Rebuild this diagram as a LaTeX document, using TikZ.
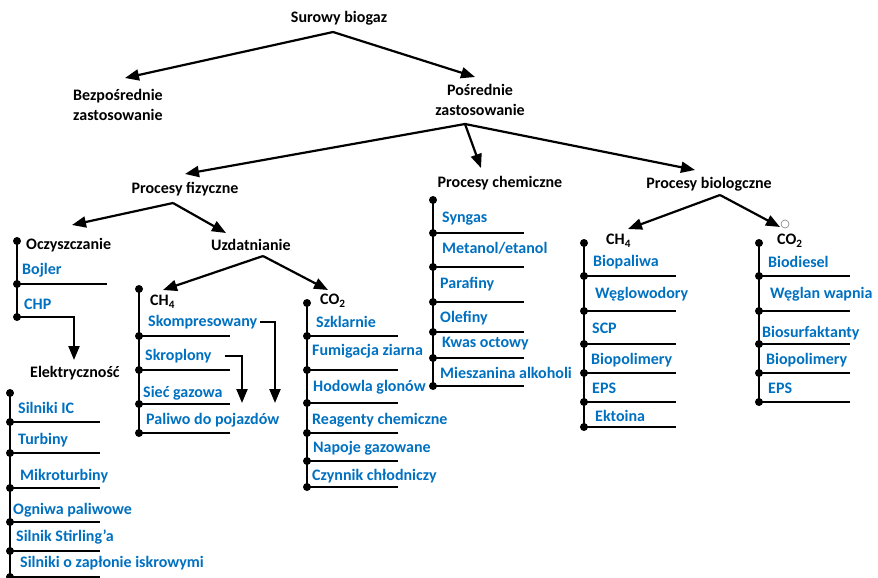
\documentclass[tikz,border=0pt]{standalone}
\usepackage{fontspec}
\setmainfont{Carlito}
\usepackage{xcolor}
\usetikzlibrary{arrows.meta}

\definecolor{itemblue}{RGB}{0,112,192}

\tikzset{
    head/.style={font=\fontsize{16}{20}\selectfont\bfseries, inner sep=0pt},
    item/.style={font=\fontsize{16}{20}\selectfont\bfseries, text=itemblue, anchor=west, inner sep=0pt},
    dot/.style={circle, fill=black, inner sep=0pt, minimum size=8pt},
    rung/.style={line width=2.2pt},
    arr/.style={line width=2.2pt, -{Triangle[length=14pt,width=11pt]}},
}

\begin{document}
\begin{tikzpicture}[x=1pt, y=-1pt]
    \useasboundingbox (0,0) rectangle (878,578);

    % headings
    \node[head] (biogaz) at (339,18) {Surowy biogaz};
    \node[head, anchor=west, align=left] (bezp) at (73,105) {Bezpośrednie\\zastosowanie};
    \node[head, align=center] (posr) at (480,100) {Pośrednie\\zastosowanie};
    \node[head] (fiz) at (185,189) {Procesy fizyczne};
    \node[head] (chem) at (500,183) {Procesy chemiczne};
    \node[head] (bio) at (709,184) {Procesy biologczne};
    \node[head, anchor=west] (oczy) at (26,245) {Oczyszczanie};
    \node[head, anchor=west] (uzd) at (211,245) {Uzdatnianie};
    \node[head, anchor=west] (elek) at (30,373) {Elektryczność};
    \node[head, anchor=west] (ch4) at (150,302) {CH\textsubscript{4}};
    \node[head, anchor=west] (co2) at (320,301) {CO\textsubscript{2}};
    \node[head, anchor=west] (bch4) at (606,241) {CH\textsubscript{4}};
    \node[head, anchor=west] (bco2) at (777,241) {CO\textsubscript{2}};

    % branching arrows
    \coordinate (a0) at (333,32);
    \coordinate (a1) at (465,124);
    \coordinate (a2) at (173,203);
    \coordinate (a3) at (263,256);
    \coordinate (a4) at (720,195);
    \coordinate (t-bezp) at (125,78);
    \coordinate (t-posr) at (475,77);
    \coordinate (t-fiz) at (185,174);
    \coordinate (t-chem) at (481,168);
    \coordinate (t-bio) at (695,170);
    \coordinate (t-oczy) at (72,225);
    \coordinate (t-uzd) at (226,233);
    \coordinate (t-ch4) at (163,290);
    \coordinate (t-co2) at (328,290);
    \coordinate (t-bch4) at (628,229);
    \coordinate (t-bco2) at (780,227);

    \draw[arr] (a0) -- (t-bezp);
    \draw[arr] (a0) -- (t-posr);
    \draw[arr] (a1) -- (t-fiz);
    \draw[arr] (a1) -- (t-chem);
    \draw[arr] (a1) -- (t-bio);
    \draw[arr] (a2) -- (t-oczy);
    \draw[arr] (a2) -- (t-uzd);
    \draw[arr] (a3) -- (t-ch4);
    \draw[arr] (a3) -- (t-co2);
    \draw[arr] (a4) -- (t-bch4);
    \draw[arr] (a4) -- (t-bco2);
    \node[circle, draw=gray, fill=white, line width=0.6pt, minimum size=8pt, inner sep=0pt] (ring) at (785,224) {};

    % Oczyszczanie
    \node[dot] (o0) at (17,241) {};
    \node[dot] (o1) at (17,284) {};
    \node[dot] (o2) at (17,317) {};
    \coordinate (o1r) at (107,284);
    \coordinate (t-elek) at (74,360);
    \draw[rung] (o0.center) -- (o2.center);
    \draw[rung] (o1.center) -- (o1r);
    \draw[arr] (o2.center) -| (t-elek);
    \node[item] (bojler) at (22,270) {Bojler};
    \node[item] (chp) at (24,304) {CHP};

    % Elektryczność
    \node[dot] (e0) at (10,393) {};
    \foreach \i/\y in {1/422,2/453,3/488,4/522,5/551,6/577}{
        \node[dot] (e\i) at (10,\y) {};
        \coordinate (e\i r) at (100,\y);
        \draw[rung] (e\i.center) -- (e\i r);
    }
    \draw[rung] (e0.center) -- (e6.center);
    \foreach \n/\x/\y/\t in {e-ic/18/408/Silniki IC, e-turb/18/440/Turbiny,
        e-mikro/20/476/Mikroturbiny, e-ogn/13/510/Ogniwa paliwowe,
        e-stir/16/537/Silnik Stirling’a, e-iskr/20/563/Silniki o zapłonie iskrowymi}
        \node[item] (\n) at (\x,\y) {\t};

    % CH4 po uzdatnianiu
    \node[dot] (m0) at (139,289) {};
    \foreach \i/\y in {1/336,2/370,3/404,4/433}{
        \node[dot] (m\i) at (139,\y) {};
        \coordinate (m\i r) at (230,\y);
        \draw[rung] (m\i.center) -- (m\i r);
    }
    \draw[rung] (m0.center) -- (m4.center);
    \node[item] (skomp) at (148,322) {Skompresowany};
    \node[item] (skrop) at (145,356) {Skroplony};
    \node[item] (siec) at (143,393) {Sieć gazowa};
    \node[item] (paliwo) at (146,420) {Paliwo do pojazdów};
    \coordinate (t-skomp) at (275,403);
    \coordinate (t-skrop) at (242,403);
    \draw[arr] ([xshift=3pt]skomp.east) -| (t-skomp);
    \draw[arr] ([xshift=13pt]skrop.east) -| (t-skrop);

    % CO2 po uzdatnianiu
    \node[dot] (c0) at (307,303) {};
    \foreach \i/\y in {1/336,2/370,3/403,4/433,5/461,6/487}{
        \node[dot] (c\i) at (307,\y) {};
        \coordinate (c\i r) at (398,\y);
        \draw[rung] (c\i.center) -- (c\i r);
    }
    \draw[rung] (c0.center) -- (c6.center);
    \foreach \n/\x/\y/\t in {c-szk/316/322/Szklarnie, c-fum/312/351/Fumigacja ziarna,
        c-hod/313/387/Hodowla glonów, c-reag/312/420/Reagenty chemiczne,
        c-nap/313/448/Napoje gazowane, c-czyn/312/476/Czynnik chłodniczy}
        \node[item] (\n) at (\x,\y) {\t};

    % procesy chemiczne
    \node[dot] (k0) at (433,200) {};
    \foreach \i/\y in {1/233,2/267,3/302,4/332,5/358,6/386}{
        \node[dot] (k\i) at (433,\y) {};
        \coordinate (k\i r) at (524,\y);
        \draw[rung] (k\i.center) -- (k\i r);
    }
    \draw[rung] (k0.center) -- (k6.center);
    \foreach \n/\x/\y/\t in {k-syn/442/219/Syngas, k-met/442/248/{Metanol/etanol},
        k-par/440/284/Parafiny, k-ole/440/318/Olefiny,
        k-kwas/442/344/Kwas octowy, k-mie/440/373/Mieszanina alkoholi}
        \node[item] (\n) at (\x,\y) {\t};

    % CH4 procesy biologiczne
    \node[dot] (b0) at (584,243) {};
    \foreach \i/\y in {1/276,2/311,3/344,4/373,5/402,6/427}{
        \node[dot] (b\i) at (584,\y) {};
        \coordinate (b\i r) at (676,\y);
        \draw[rung] (b\i.center) -- (b\i r);
    }
    \draw[rung] (b0.center) -- (b6.center);
    \foreach \n/\x/\y/\t in {b-biop/593/262/Biopaliwa, b-wegl/595/294/Węglowodory,
        b-scp/592/328/SCP, b-biom/591/360/Biopolimery,
        b-eps/592/388/EPS, b-ekt/595/416/Ektoina}
        \node[item] (\n) at (\x,\y) {\t};

    % CO2 procesy biologiczne
    \node[dot] (d0) at (759,243) {};
    \foreach \i/\y in {1/276,2/311,3/344,4/373,5/402}{
        \node[dot] (d\i) at (759,\y) {};
        \coordinate (d\i r) at (850,\y);
        \draw[rung] (d\i.center) -- (d\i r);
    }
    \draw[rung] (d0.center) -- (d5.center);
    \foreach \n/\x/\y/\t in {d-bdie/768/262/Biodiesel, d-wap/770/294/Węglan wapnia,
        d-surf/762/333/Biosurfaktanty, d-biom/766/360/Biopolimery,
        d-eps/768/388/EPS}
        \node[item] (\n) at (\x,\y) {\t};
\end{tikzpicture}
\end{document}
